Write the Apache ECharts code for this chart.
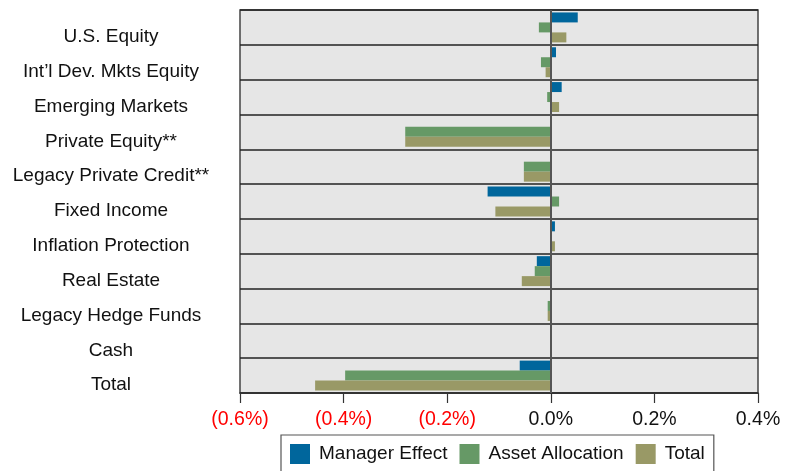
<!DOCTYPE html>
<html>
<head><meta charset="utf-8">
<script src="https://cdn.jsdelivr.net/npm/echarts@6/dist/echarts.min.js"></script>
</head>
<body style="margin:0;background:#fff;">
<div id="main" style="width:792px;height:471px;"></div>
<script type="text/javascript">
// values in percent
var categories = ['U.S. Equity', 'Int\u2019l Dev. Mkts Equity', 'Emerging Markets', 'Private Equity**',
    'Legacy Private Credit**', 'Fixed Income', 'Inflation Protection', 'Real Estate',
    'Legacy Hedge Funds', 'Cash', 'Total'];
var managerEffect = [0.052, 0.010, 0.021, 0, 0, -0.122, 0.008, -0.027, 0, -0.001, -0.060];
var assetAllocation = [-0.023, -0.019, -0.007, -0.281, -0.052, 0.016, 0.001, -0.031, -0.006, -0.001, -0.397];
var totalEffect = [0.030, -0.010, 0.016, -0.281, -0.052, -0.107, 0.008, -0.056, -0.006, -0.001, -0.455];
var seriesNames = ['Manager Effect', 'Asset Allocation', 'Total'];
var colors = ['#00669c', '#669966', '#999966'];

var font = '"Liberation Sans", Arial, sans-serif';
var myChart = echarts.init(document.getElementById('main'));

function fmt(v) {
    var s = Math.abs(v).toFixed(1) + '%';
    if (v < -1e-9) return '{neg|(' + s + ')}';
    return '{pos|' + s + '}';
}

var option = {
    animation: false,
    color: colors,
    textStyle: {fontFamily: font},
    grid: {
        left: 240, right: 34, top: 10, bottom: 78,
        show: true, backgroundColor: '#e6e6e6',
        borderColor: '#444', borderWidth: 1.5
    },
    legend: {
        data: seriesNames,
        left: 281, top: 435,
        icon: 'rect', itemWidth: 20, itemHeight: 20, itemGap: 12,
        padding: [9, 9, 10, 9],
        borderColor: '#555', borderWidth: 1.2,
        textStyle: {fontSize: 19, color: '#111', fontFamily: font, padding: [0, 0, 0, 4]}
    },
    xAxis: {
        type: 'value',
        min: -0.6, max: 0.4, interval: 0.2,
        axisLine: {show: true, lineStyle: {color: '#333', width: 1.5}},
        axisTick: {show: true, length: 10, lineStyle: {color: '#333', width: 1.2}},
        splitLine: {show: false},
        axisLabel: {
            margin: 17,
            formatter: fmt,
            rich: {
                neg: {color: '#ff0000', fontSize: 19.5, fontFamily: font},
                pos: {color: '#111', fontSize: 19.5, fontFamily: font}
            }
        }
    },
    yAxis: {
        type: 'category',
        data: categories,
        inverse: true,
        axisLine: {show: true, lineStyle: {color: '#333', width: 2}},
        axisTick: {show: false},
        splitLine: {show: true, lineStyle: {color: '#222', width: 1.5}},
        axisLabel: {
            margin: 129, align: 'center', verticalAlign: 'top',
            fontSize: 19, color: '#111', fontFamily: font
        }
    },
    series: [
        {
            name: seriesNames[0], type: 'bar', data: managerEffect,
            barGap: '0%', barCategoryGap: '14%',
            markLine: {
                silent: true, symbol: 'none', label: {show: false},
                lineStyle: {color: '#555', width: 2, type: 'solid'},
                data: [{xAxis: 0}]
            }
        },
        {name: seriesNames[1], type: 'bar', data: assetAllocation, barGap: '0%', barCategoryGap: '14%'},
        {name: seriesNames[2], type: 'bar', data: totalEffect, barGap: '0%', barCategoryGap: '14%'}
    ]
};
myChart.setOption(option);
</script>
</body>
</html>
